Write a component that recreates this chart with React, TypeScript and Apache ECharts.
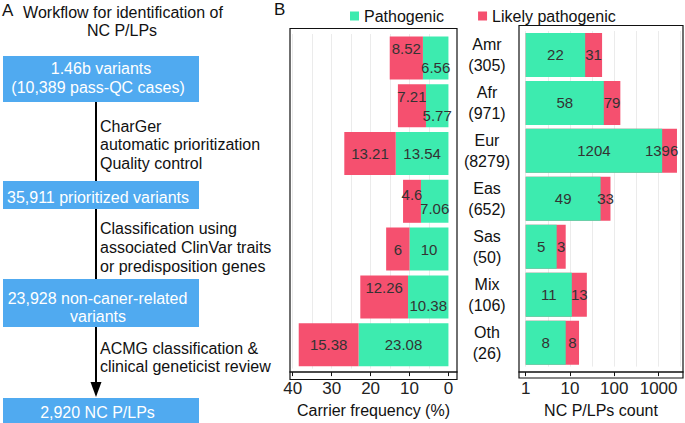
import React, { useEffect, useRef } from "react";
import * as echarts from "echarts";

const categories = ["Amr", "Afr", "Eur", "Eas", "Sas", "Mix", "Oth"];
const caseCounts = [305, 971, 8279, 652, 50, 106, 26];
const freqPathogenic = [6.56, 5.77, 13.54, 7.06, 10, 10.38, 23.08];
const freqLikely = [8.52, 7.21, 13.21, 4.6, 6, 12.26, 15.38];
const countPathogenic = [22, 58, 1204, 49, 5, 11, 8];
const countLikely = [31, 79, 1396, 33, 3, 13, 8];
const freqTicks = [0, 10, 20, 30, 40];
const countTicks = [1, 10, 100, 1000];
const freqGrid = [5, 10, 15, 20, 25, 30, 35, 40];
const countGrid = [1, 3.162, 10, 31.62, 100, 316.2, 1000, 3162];

// style-only: vertical stagger of labels for narrow segments, horizontal nudge
const staggerDy = [9.5, 9.5, 0, 7, 0, 9, 0];
const countLabelShift = [0, 0, -8, 0, 0, 0, 0];

const GREEN = "#3DEBAF";
const RED = "#F5506F";
const BLUE = "#50AAF0";
const FONT = '"Liberation Sans", Arial, sans-serif';

function txt(text: string, x: number, y: number, opts: any = {}) {
  return {
    type: "text",
    z: 10,
    style: {
      text,
      x,
      y,
      fill: opts.fill || "#111",
      fontSize: opts.size || 16,
      fontFamily: FONT,
      textAlign: opts.align || "left",
      textVerticalAlign: "middle",
    },
  };
}

export default function App() {
  const ref = useRef<HTMLDivElement>(null);
  useEffect(() => {
    if (!ref.current) return;
    const chart = echarts.init(ref.current, null, { renderer: "svg" });

    const gridLineStyle = { color: "#ebebeb", width: 1, type: "solid" };

    const option: any = {
      animation: false,
      textStyle: { fontFamily: FONT },
      legend: {
        data: ["Pathogenic", "Likely pathogenic"],
        left: 345,
        top: 3,
        icon: "rect",
        itemWidth: 9,
        itemHeight: 9,
        itemGap: 34,
        textStyle: { fontSize: 16, color: "#111", fontFamily: FONT },
        selectedMode: false,
      },
      grid: [
        { left: 290, right: 228, top: 34, bottom: 47 },
        { left: 519, right: 2, top: 31, bottom: 50.5 },
      ],
      xAxis: [
        {
          type: "value",
          gridIndex: 0,
          inverse: true,
          min: -2.2,
          max: 40.7,
          offset: 3.5,
          axisLine: { show: true, lineStyle: { color: "#111", width: 1.5 } },
          axisTick: { show: true, length: 4, customValues: freqTicks, lineStyle: { color: "#111" } },
          axisLabel: {
            customValues: freqTicks,
            fontSize: 17,
            color: "#222",
            margin: 8,
            formatter: (v: number) => (freqTicks.includes(v) ? String(v) : ""),
          },
          splitLine: { show: false },
          name: "Carrier frequency (%)",
          nameLocation: "middle",
          nameGap: 28,
          nameTextStyle: { fontSize: 16, color: "#111" },
        },
        {
          type: "log",
          logBase: 10,
          gridIndex: 1,
          min: 0.706,
          max: 3556,
          offset: 5.5,
          axisLine: { show: true, lineStyle: { color: "#111", width: 1.5 } },
          axisTick: { show: true, length: 4, customValues: countTicks, lineStyle: { color: "#111" } },
          axisLabel: {
            customValues: countTicks,
            fontSize: 17,
            color: "#222",
            margin: 8,
            formatter: (v: number) => (countTicks.some((t) => Math.abs(t - v) < 1e-6 * t) ? String(Math.round(v)) : ""),
          },
          splitLine: { show: false },
          minorSplitLine: { show: false },
          name: "NC P/LPs count",
          nameLocation: "middle",
          nameGap: 28,
          nameTextStyle: { fontSize: 16, color: "#111" },
        },
      ],
      yAxis: [
        {
          type: "category",
          gridIndex: 0,
          inverse: true,
          data: categories,
          axisLine: { show: false },
          axisTick: { show: false },
          axisLabel: { show: false },
        },
        {
          type: "category",
          gridIndex: 1,
          inverse: true,
          data: categories.map((c, i) => `${c}\n(${caseCounts[i]})`),
          axisLine: { show: false },
          axisTick: { show: false },
          axisLabel: {
            fontSize: 16,
            lineHeight: 21,
            color: "#111",
            align: "center",
            margin: 32,
          },
        },
      ],
      series: [
        {
          name: "Pathogenic",
          type: "bar",
          xAxisIndex: 0,
          yAxisIndex: 0,
          stack: "freq",
          barWidth: 43,
          itemStyle: { color: GREEN },
          data: freqPathogenic.map((v, i) => ({ value: v, label: { offset: [0, staggerDy[i]] } })),
          label: {
            show: true,
            position: "inside",
            fontSize: 15,
            color: "#333",
            formatter: (p: any) => String(p.value),
          },
          markLine: {
            silent: true,
            symbol: "none",
            z: 1,
            label: { show: false },
            lineStyle: gridLineStyle,
            data: freqGrid.map((v) => ({ xAxis: v })),
          },
          z: 2,
        },
        {
          name: "Likely pathogenic",
          type: "bar",
          xAxisIndex: 0,
          yAxisIndex: 0,
          stack: "freq",
          barWidth: 43,
          itemStyle: { color: RED },
          data: freqLikely.map((v, i) => ({ value: v, label: { offset: [0, -staggerDy[i]] } })),
          label: {
            show: true,
            position: "inside",
            fontSize: 15,
            color: "#333",
            formatter: (p: any) => String(p.value),
          },
          z: 2,
        },
        {
          name: "Likely pathogenic",
          type: "bar",
          xAxisIndex: 1,
          yAxisIndex: 1,
          barWidth: 44,
          barGap: "-100%",
          itemStyle: { color: RED },
          data: countLikely.map((r, i) => {
            const g = countPathogenic[i];
            const total = g + r;
            const pct = 50 * (1 + Math.log10(g) / Math.log10(total));
            return {
              value: total,
              label: {
                position: [pct + "%", "50%"],
                align: "center",
                verticalAlign: "middle",
                offset: [countLabelShift[i], 0],
                formatter: String(r),
              },
            };
          }),
          label: { show: true, fontSize: 15, color: "#333" },
          markLine: {
            silent: true,
            symbol: "none",
            z: 1,
            label: { show: false },
            lineStyle: gridLineStyle,
            data: countGrid.map((v) => ({ xAxis: v })),
          },
          z: 2,
        },
        {
          name: "Pathogenic",
          type: "bar",
          xAxisIndex: 1,
          yAxisIndex: 1,
          barWidth: 44,
          barGap: "-100%",
          itemStyle: { color: GREEN },
          data: countPathogenic,
          label: {
            show: true,
            position: "inside",
            fontSize: 15,
            color: "#333",
            formatter: (p: any) => String(p.value),
          },
          z: 2,
        },
      ],
      graphic: [
        {
          type: "rect",
          z: 0,
          shape: { x: 290, y: 28.5, width: 167, height: 351 },
          style: { fill: "none", stroke: "#111", lineWidth: 1.2 },
          silent: true,
        },
        {
          type: "rect",
          z: 0,
          shape: { x: 519, y: 25.5, width: 164, height: 352.5 },
          style: { fill: "none", stroke: "#111", lineWidth: 1.2 },
          silent: true,
        },
        txt("A", 2, 10, { size: 17 }),
        txt("B", 274, 9, { size: 17 }),
        txt("Workflow for identification of", 123, 12, { align: "center", size: 16 }),
        txt("NC P/LPs", 122, 30, { align: "center", size: 16 }),
        {
          type: "line",
          z: 5,
          shape: { x1: 96, y1: 100, x2: 96, y2: 386 },
          style: { stroke: "#000", lineWidth: 2 },
        },
        {
          type: "polygon",
          z: 5,
          shape: { points: [[90.5, 382], [101.5, 382], [96, 397]] },
          style: { fill: "#000" },
        },
        { type: "rect", z: 6, shape: { x: 3, y: 56, width: 196, height: 46 }, style: { fill: BLUE } },
        { type: "rect", z: 6, shape: { x: 3, y: 181, width: 196, height: 28 }, style: { fill: BLUE } },
        { type: "rect", z: 6, shape: { x: 3, y: 279, width: 196, height: 48 }, style: { fill: BLUE } },
        { type: "rect", z: 6, shape: { x: 3, y: 398, width: 196, height: 30 }, style: { fill: BLUE } },
        txt("1.46b variants", 101, 68.5, { align: "center", fill: "#fff" }),
        txt("(10,389 pass-QC cases)", 98, 87.5, { align: "center", fill: "#fff" }),
        txt("35,911 prioritized variants", 98, 197, { align: "center", fill: "#fff" }),
        txt("23,928 non-caner-related", 97.5, 298.5, { align: "center", fill: "#fff" }),
        txt("variants", 98, 316.5, { align: "center", fill: "#fff" }),
        txt("2,920 NC P/LPs", 97.5, 412.5, { align: "center", fill: "#fff" }),
        txt("CharGer", 100, 126),
        txt("automatic prioritization", 100, 144.5),
        txt("Quality control", 100, 163),
        txt("Classification using", 100, 228.5),
        txt("associated ClinVar traits", 100, 247.5),
        txt("or predisposition genes", 100, 266),
        txt("ACMG classification &", 100, 348.5),
        txt("clinical geneticist review", 100, 366.5),
      ],
    };

    chart.setOption(option);
    return () => chart.dispose();
  }, []);

  return (
    <div
      ref={ref}
      style={{ position: "fixed", left: 0, top: 0, width: 685, height: 423, background: "#fff" }}
    />
  );
}
